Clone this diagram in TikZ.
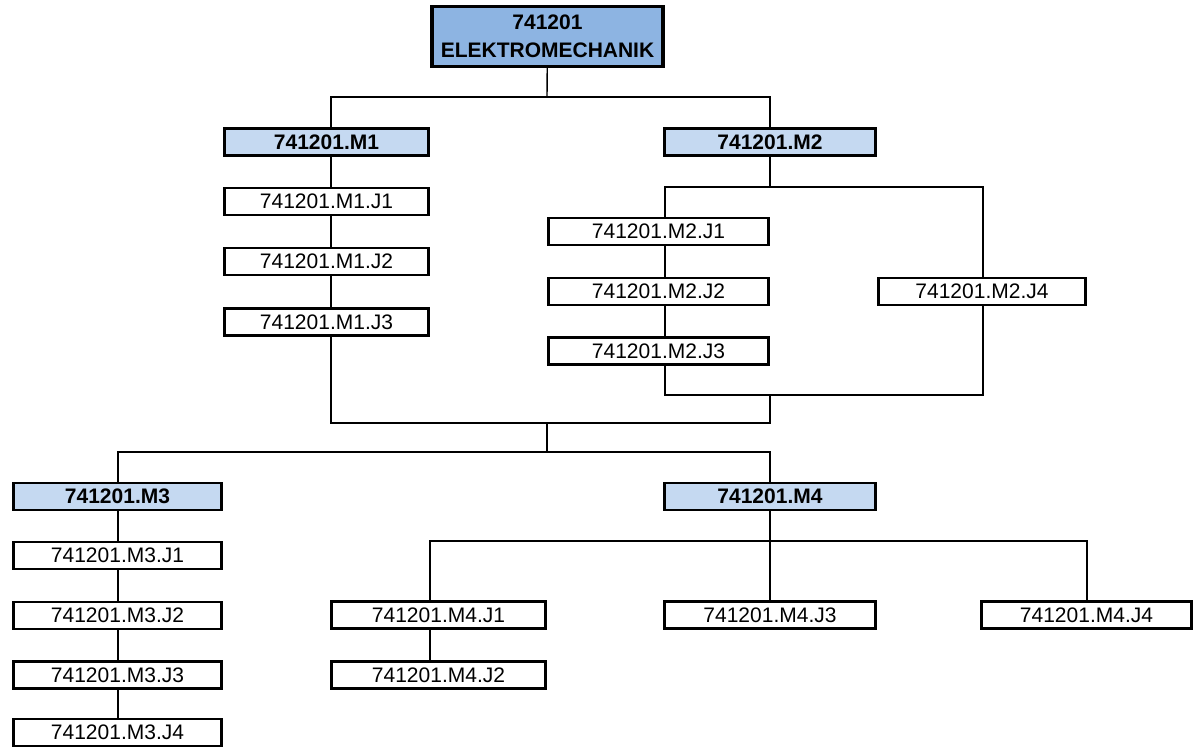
\documentclass[tikz,border=0pt]{standalone}
\usepackage{fontspec}
\setmainfont{Liberation Sans}
\usetikzlibrary{positioning,calc}
\definecolor{topfill}{HTML}{8DB4E2}
\definecolor{modfill}{HTML}{C5D9F1}

\begin{document}
\begin{tikzpicture}[x=1pt, y=-1pt,
    every node/.style={draw,line width=2.6pt,inner sep=0pt,align=center,font=\fontsize{21}{28}\selectfont},
    jbox/.style={minimum width=#1,minimum height=27pt},
    mbox/.style={fill=modfill,minimum width=#1,minimum height=27pt,font=\fontsize{21}{28}\selectfont\bfseries},
    link/.style={line width=1.4pt}]
    \useasboundingbox (0,0) rectangle (1195,747);

    % root
    \node[fill=topfill,line width=3.4pt,minimum width=231pt,minimum height=60pt,font=\fontsize{21}{28}\selectfont\bfseries] (root) at (547.5,36.5) {741201\\ELEKTROMECHANIK};

    % M1
    \node[mbox=204pt] (m1) at (326.5,142) {741201.M1};
    \foreach \i/\y in {1/201.5,2/261.5,3/322}{
      \node[jbox=204pt] (m1j\i) at (326.5,\y) {741201.M1.J\i};
    }

    % M2
    \node[mbox=211pt] (m2) at (770,142) {741201.M2};
    \foreach \i/\y in {1/231.5,2/291.5,3/351}{
      \node[jbox=220pt] (m2j\i) at (658.5,\y) {741201.M2.J\i};
    }
    \node[jbox=207pt] (m2j4) at (982,291.5) {741201.M2.J4};

    % M3
    \node[mbox=208pt] (m3) at (117.5,496.5) {741201.M3};
    \foreach \i/\y in {1/555.5,2/615.5,3/675,4/732.5}{
      \node[jbox=208pt] (m3j\i) at (117.5,\y) {741201.M3.J\i};
    }

    % M4
    \node[mbox=211pt] (m4) at (770,496.5) {741201.M4};
    \foreach \i/\y in {1/615,2/675}{
      \node[jbox=214pt] (m4j\i) at (438.5,\y) {741201.M4.J\i};
    }
    \node[jbox=211pt] (m4j3) at (770,615) {741201.M4.J3};
    \node[jbox=210pt] (m4j4) at (1086.5,615) {741201.M4.J4};

    % columns and buses
    \coordinate (c1) at (331,0);
    \coordinate (c2) at (665,0);
    \coordinate (c3) at (118,0);
    \coordinate (c4) at (983,0);
    \coordinate (c5) at (430,0);
    \coordinate (c6) at (1087,0);
    \coordinate (bus1) at (547,97);
    \coordinate (bus2) at (770,187);
    \coordinate (bus3) at (770,395);
    \coordinate (bus4) at (547,423);
    \coordinate (bus5) at (547,452);
    \coordinate (bus6) at (770,541);

    % links
    \draw[link] (root) -- (bus1);
    \draw[link] (m1.north -| c1) |- (bus1) -| (m2.north);
    \foreach \u/\v in {m1/m1j1,m1j1/m1j2,m1j2/m1j3}{
      \draw[link] (\u.south -| c1) -- (\v.north -| c1);
    }
    \draw[link] (m2) -- (bus2);
    \draw[link] (m2j1.north -| c2) |- (bus2) -| (m2j4.north -| c4);
    \foreach \u/\v in {m2j1/m2j2,m2j2/m2j3}{
      \draw[link] (\u.south -| c2) -- (\v.north -| c2);
    }
    \draw[link] (m2j3.south -| c2) |- (bus3) -| (m2j4.south -| c4);
    \draw[link] (m1j3.south -| c1) |- (bus4) -| (bus3);
    \draw[link] (bus4) -- (bus5);
    \draw[link] (m3.north -| c3) |- (bus5) -| (m4.north);
    \foreach \u/\v in {m3/m3j1,m3j1/m3j2,m3j2/m3j3,m3j3/m3j4}{
      \draw[link] (\u.south -| c3) -- (\v.north -| c3);
    }
    \draw[link] (m4) -- (bus6);
    \draw[link] (m4j1.north -| c5) |- (bus6) -| (m4j4.north -| c6);
    \draw[link] (bus6) -- (m4j3);
    \draw[link] (m4j1.south -| c5) -- (m4j2.north -| c5);
\end{tikzpicture}
\end{document}
